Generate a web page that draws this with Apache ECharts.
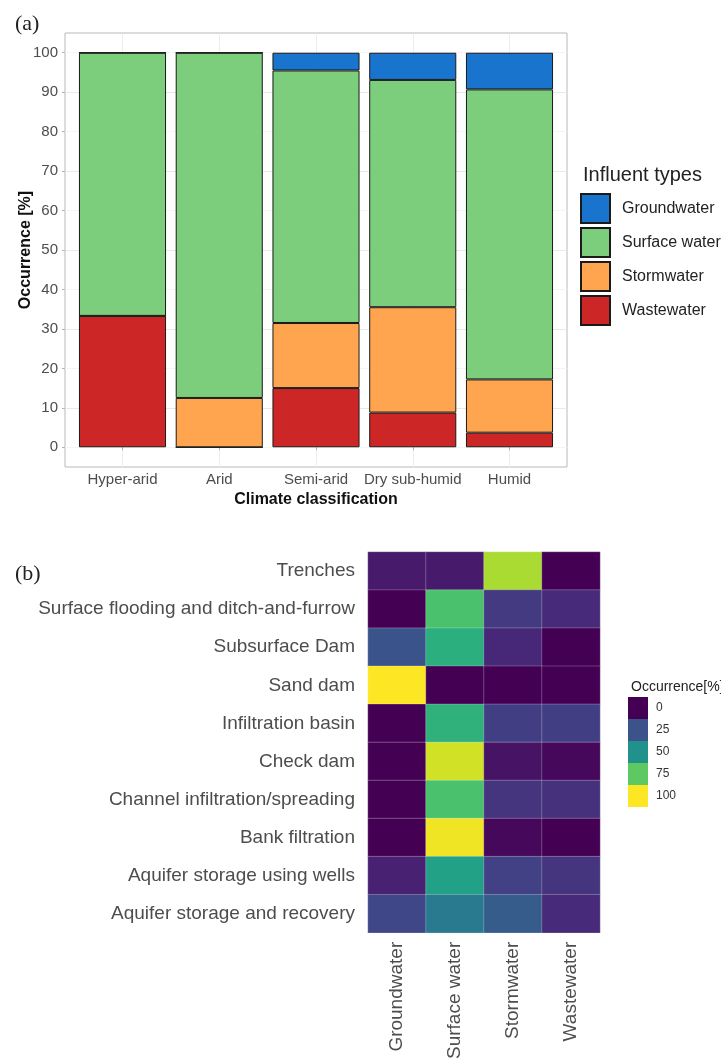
<!DOCTYPE html>
<html>
<head>
<meta charset="utf-8">
<script src="https://cdn.jsdelivr.net/npm/echarts@6/dist/echarts.min.js"></script>
<style>html,body{margin:0;padding:0;background:#fff}#c{width:721px;height:1062px}</style>
</head>
<body>
<div id="c"></div>
<script>
// ---- Panel (a) data ----
const climateCategories = ['Hyper-arid', 'Arid', 'Semi-arid', 'Dry sub-humid', 'Humid'];
const wastewater   = [33.3, 0, 15.0, 8.8, 3.7];
const stormwater   = [0, 12.5, 16.5, 26.7, 13.5];
const surfaceWater = [66.7, 87.5, 64.0, 57.6, 73.5];
const groundwater  = [0, 0, 4.5, 6.9, 9.3];
const yTicks = [0, 10, 20, 30, 40, 50, 60, 70, 80, 90, 100];
const influentOrder = ['Groundwater', 'Surface water', 'Stormwater', 'Wastewater'];

// ---- Panel (b) data ----
const methods = ['Trenches', 'Surface flooding and ditch-and-furrow', 'Subsurface Dam', 'Sand dam',
  'Infiltration basin', 'Check dam', 'Channel infiltration/spreading', 'Bank filtration',
  'Aquifer storage using wells', 'Aquifer storage and recovery'];
const influentTypes = ['Groundwater', 'Surface water', 'Stormwater', 'Wastewater'];
const hmGroundwater = [7, 0, 26, 100, 0, 0, 0, 0, 9, 21];
const hmSurface     = [7, 71, 63, 0, 64, 93, 71, 98, 57, 41];
const hmStorm       = [87, 17, 11, 0, 18, 5, 15, 2, 19, 29];
const hmWaste       = [0, 12, 0, 0, 18, 2, 14, 0, 15, 12];
const legendTicks = [0, 25, 50, 75, 100];

const viridis = ['#440154','#482475','#414487','#355f8d','#2a788e','#21918c','#22a884','#44bf70','#7ad151','#bddf26','#fde725'];
const legendColors = ['#440154', '#3b528b', '#21918c', '#5ec962', '#fde725'];

const heatData = [];
const hmCols = [hmGroundwater, hmSurface, hmStorm, hmWaste];
hmCols.forEach((col, xi) => col.forEach((v, yi) => heatData.push([xi, yi, v])));

const FONT = 'Liberation Sans, Arial, sans-serif';
const chart = echarts.init(document.getElementById('c'), null, {renderer: 'canvas'});

const barBase = {type: 'bar', stack: 'total', xAxisIndex: 0, yAxisIndex: 0, barWidth: '90%'};

chart.setOption({
  animation: false,
  backgroundColor: '#fff',
  textStyle: {fontFamily: FONT},
  title: [
    {text: '(a)', left: 10, top: 8, textStyle: {fontFamily: 'Liberation Serif, Times New Roman, serif', fontSize: 22, fontWeight: 'normal', color: '#222'}},
    {text: '(b)', left: 10, top: 558, textStyle: {fontFamily: 'Liberation Serif, Times New Roman, serif', fontSize: 22, fontWeight: 'normal', color: '#222'}},
    {text: 'Influent types', left: 578, top: 160, textStyle: {fontFamily: FONT, fontSize: 20, fontWeight: 'normal', color: '#222'}},
    {text: 'Occurrence[%]', left: 626, top: 675, textStyle: {fontFamily: FONT, fontSize: 14, fontWeight: 'normal', color: '#222'}}
  ],
  legend: {
    data: influentOrder, orient: 'vertical', left: 580, top: 193, padding: 0,
    itemWidth: 29, itemHeight: 29, itemGap: 3, icon: 'rect', selectedMode: false,
    textStyle: {fontFamily: FONT, fontSize: 16, color: '#222', padding: [0, 0, 0, 7]}
  },
  grid: [
    {left: 122.5, top: 33, width: 387, height: 434, containLabel: false},
    {left: 65, top: 33, width: 502, height: 434, show: true, borderColor: '#b8b8b8', borderWidth: 1, backgroundColor: 'transparent', z: 0},
    {left: 368, top: 552, width: 232, height: 381}
  ],
  xAxis: [
    {type: 'category', gridIndex: 0, data: climateCategories, boundaryGap: false,
     axisLine: {show: false}, axisTick: {show: true, length: 3, lineStyle: {color: '#b3b3b3'}},
     axisLabel: {color: '#4d4d4d', fontSize: 15, margin: 5, interval: 0, hideOverlap: false, fontFamily: FONT},
     splitLine: {show: true, lineStyle: {color: '#ededed', width: 1}},
     name: 'Climate classification', nameLocation: 'middle', nameGap: 25, nameMoveOverlap: false,
     nameTextStyle: {fontWeight: 'bold', fontSize: 16, color: '#111', fontFamily: FONT}},
    {type: 'value', gridIndex: 1, show: false, min: 0, max: 1},
    {type: 'category', gridIndex: 2, data: influentTypes, position: 'bottom',
     axisLine: {show: false}, axisTick: {show: false}, splitLine: {show: false},
     axisLabel: {rotate: 90, color: '#4d4d4d', fontSize: 19, margin: 9, interval: 0, fontFamily: FONT}}
  ],
  yAxis: [
    {type: 'value', gridIndex: 0, min: -5, max: 105, interval: 5, show: false},
    {type: 'value', gridIndex: 1, min: -5, max: 105, interval: 5,
     axisLine: {show: false},
     axisTick: {show: true, length: 3, customValues: yTicks, lineStyle: {color: '#b3b3b3'}},
     axisLabel: {customValues: yTicks, color: '#4d4d4d', fontSize: 15, margin: 7, fontFamily: FONT,
       formatter: v => (yTicks.indexOf(v) >= 0 ? String(v) : '')},
     splitLine: {show: true, lineStyle: {color: ['#f4f4f4', '#e9e9e9'], width: 1}},
     name: 'Occurrence [%]', nameLocation: 'middle', nameGap: 31, nameRotate: 90, nameMoveOverlap: false,
     nameTextStyle: {fontWeight: 'bold', fontSize: 16, color: '#111', fontFamily: FONT}},
    {type: 'category', gridIndex: 2, data: methods, inverse: true,
     axisLine: {show: false}, axisTick: {show: false}, splitLine: {show: false},
     axisLabel: {color: '#4d4d4d', fontSize: 19, margin: 13, interval: 0, fontFamily: FONT}}
  ],
  visualMap: [
    {type: 'continuous', show: false, seriesIndex: 4, min: 0, max: 100, inRange: {color: viridis}},
    {type: 'piecewise', seriesIndex: 5, left: 628, top: 697, orient: 'vertical', inverse: true, align: 'left',
     itemWidth: 20, itemHeight: 22, itemGap: 0, itemSymbol: 'rect', selectedMode: false, padding: 0,
     textGap: 8, textStyle: {fontSize: 12, color: '#333', fontFamily: FONT},
     pieces: legendTicks.map((t, i) => ({value: t, label: String(t), color: legendColors[i]}))}
  ],
  series: [
    Object.assign({}, barBase, {name: 'Wastewater', data: wastewater, itemStyle: {color: '#CD2626', borderColor: '#1a1a1a', borderWidth: 1}}),
    Object.assign({}, barBase, {name: 'Stormwater', data: stormwater, itemStyle: {color: '#FFA54F', borderColor: '#1a1a1a', borderWidth: 1}}),
    Object.assign({}, barBase, {name: 'Surface water', data: surfaceWater, itemStyle: {color: '#7CCD7C', borderColor: '#1a1a1a', borderWidth: 1}}),
    Object.assign({}, barBase, {name: 'Groundwater', data: groundwater, itemStyle: {color: '#1874CD', borderColor: '#1a1a1a', borderWidth: 1}}),
    {type: 'heatmap', xAxisIndex: 2, yAxisIndex: 2, data: heatData,
     itemStyle: {borderColor: 'rgba(255,255,255,0.4)', borderWidth: 0.6},
     emphasis: {disabled: true}},
    {type: 'scatter', xAxisIndex: 1, yAxisIndex: 1, data: [], silent: true}
  ]
});
</script>
</body>
</html>
